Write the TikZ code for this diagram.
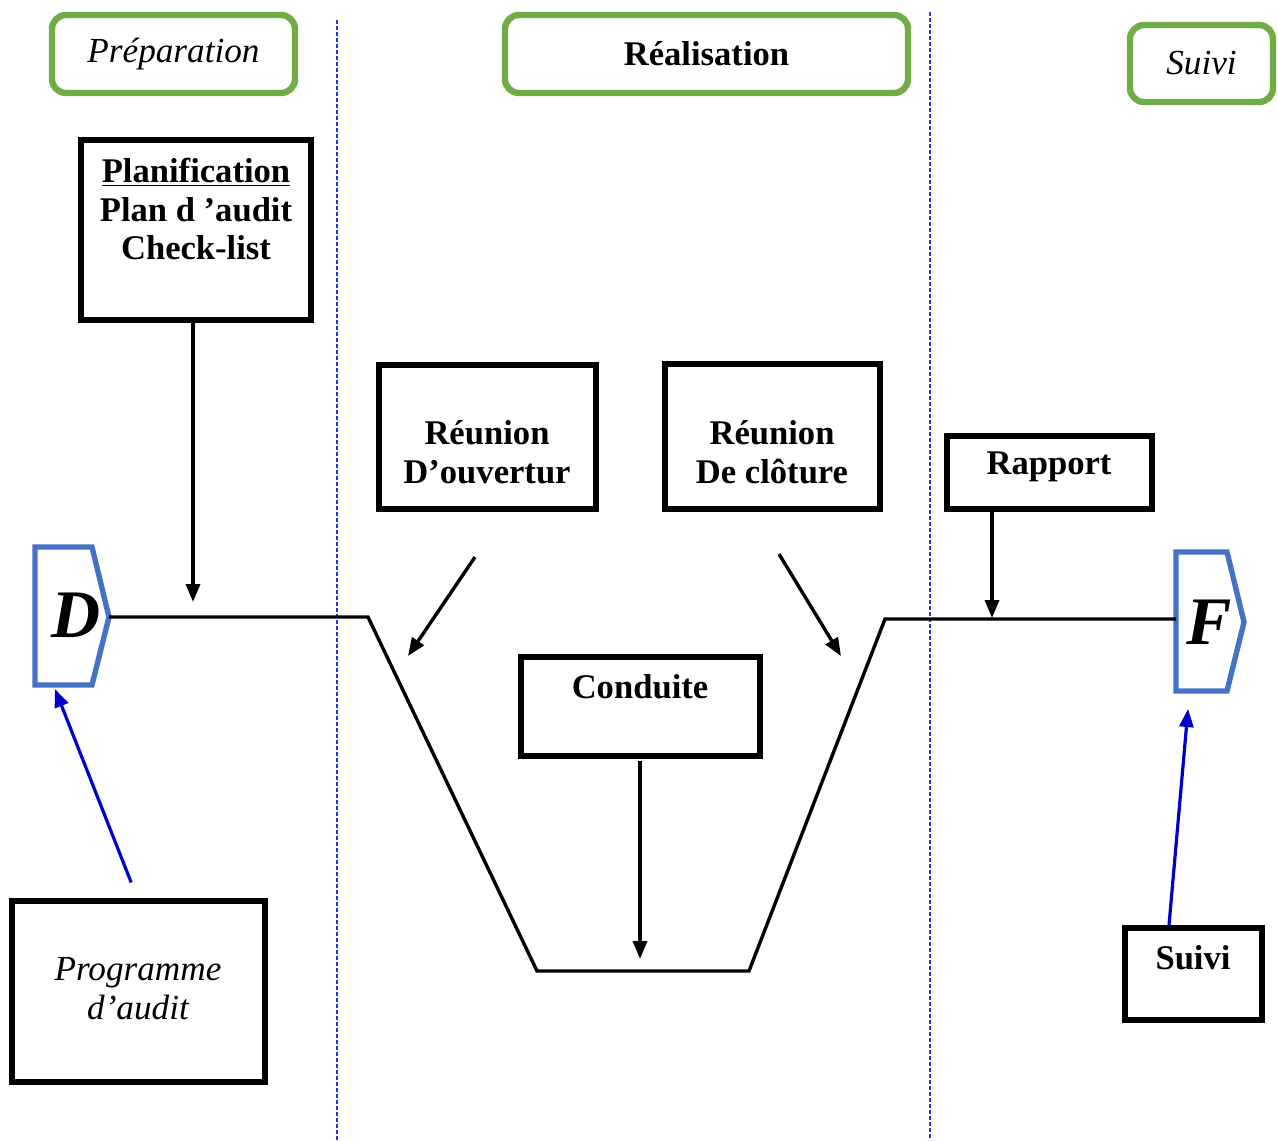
\documentclass[tikz,border=0pt]{standalone}
\usepackage{fontspec}
\setmainfont{Liberation Serif}
\usetikzlibrary{arrows.meta}
\definecolor{phasegreen}{HTML}{70AD47}
\definecolor{markerblue}{HTML}{4472C4}
\definecolor{linkblue}{RGB}{0,0,205}
\definecolor{sepblue}{RGB}{45,45,235}
\begin{document}
\begin{tikzpicture}[x=0.5pt,y=-0.5pt,
  phase/.style={draw=phasegreen, line width=3.2pt, rounded corners=7pt, inner sep=0pt, outer sep=0pt, anchor=north west},
  stepbox/.style={draw=black, line width=3pt, inner sep=0pt, outer sep=0pt, anchor=north west},
  marker/.style={draw=markerblue, line width=2.7pt, line join=miter},
  lbl/.style={font=\fontsize{17.3}{19.4}\selectfont\bfseries, align=center, inner sep=0pt},
  ilbl/.style={font=\fontsize{17.6}{19.4}\selectfont\itshape, align=center, inner sep=0pt},
  big/.style={font=\fontsize{34}{38}\selectfont\bfseries\itshape, inner sep=0pt},
  flow/.style={line width=1.7pt},
  arr/.style={line width=1.7pt, -{Triangle[length=9pt,width=7pt]}},
  bluearr/.style={draw=linkblue, line width=1.6pt, -{Triangle[length=9pt,width=7pt]}},
  sep/.style={draw=sepblue, line width=0.7pt, dash pattern=on 2pt off 1pt}
]
\useasboundingbox (0,0) rectangle (1278,1140);

% phase separators
\draw[sep] (337,20) -- (337,1140);
\draw[sep] (930,12) -- (930,1140);

% phase headers
\node[phase, minimum width=121.5pt, minimum height=39pt] (hprep) at (52,15) {};
\node[ilbl] at (hprep.center) {Préparation};
\node[phase, minimum width=201.5pt, minimum height=39pt] (hreal) at (505,15) {};
\node[lbl] at (hreal.center) {Réalisation};
\node[phase, minimum width=71.5pt, minimum height=38.5pt] (hsuivi) at (1130,25) {};
\node[ilbl] at (hsuivi.center) {Suivi};

% step boxes
\node[stepbox, minimum width=115pt, minimum height=90pt] (plan) at (81,140) {};
\node[lbl] (plantxt) at (196,209) {\underline{Planification}\\Plan d ’audit\\Check-list};

\node[stepbox, minimum width=108.5pt, minimum height=72pt] (ouv) at (379,365) {};
\node[lbl] (ouvtxt) at (487,452) {Réunion\\D’ouvertur};

\node[stepbox, minimum width=107.5pt, minimum height=72.5pt] (clo) at (665,364) {};
\node[lbl] (clotxt) at (772,452) {Réunion\\De clôture};

\node[stepbox, minimum width=119.5pt, minimum height=49.5pt] (cond) at (521,657) {};
\node[lbl] (condtxt) at (640,687) {Conduite};

\node[stepbox, minimum width=102.5pt, minimum height=36.5pt] (rap) at (947,436) {};
\node[lbl] (raptxt) at (1049,467) {Rapport};

\node[stepbox, minimum width=68.5pt, minimum height=46pt] (suivi) at (1125,928) {};
\node[lbl] (suivitxt) at (1193,958) {Suivi};

\node[stepbox, minimum width=126.5pt, minimum height=90.5pt] (prog) at (12,901) {};
\node[ilbl] (progtxt) at (138,989) {Programme\\d'audit};

% start and end markers
\draw[marker] (35,547) -- (92,547) -- (109,617) -- (92,685) -- (35,685) -- cycle;
\node[big] (dlbl) at (76,615) {D};
\coordinate (dtip) at (109,617);
\coordinate (dfoot) at (55,689);

\draw[marker] (1176,552) -- (1227,552) -- (1244,622) -- (1227,691) -- (1176,691) -- cycle;
\node[big] (flbl) at (1209,622) {F};
\coordinate (fside) at (1176,619);
\coordinate (ffoot) at (1188,709);

% process line
\coordinate (k1) at (368,617);
\coordinate (k2) at (537,971);
\coordinate (k3) at (749,971);
\coordinate (k4) at (885,619);
\draw[flow, line join=miter] (dtip) -- (k1) -- (k2) -- (k3) -- (k4) -- (fside);

% inputs to the process line
\coordinate (planend) at (193,602);
\draw[arr] (planend |- plan.south) -- (planend);

\coordinate (ouvstart) at (475,557);
\coordinate (ouvend) at (408,656);
\draw[arr] (ouvstart) -- (ouvend);

\coordinate (clostart) at (779,554);
\coordinate (cloend) at (841,656);
\draw[arr] (clostart) -- (cloend);

\coordinate (condend) at (640,959);
\draw[arr, shorten <=2.5pt] (condend |- cond.south) -- (condend);

\coordinate (rapend) at (992,618);
\draw[arr] (rapend |- rap.south) -- (rapend);

\draw[bluearr, shorten <=10pt] (prog.north) -- (dfoot);

\coordinate (suivistart) at (1169,925);
\draw[bluearr] (suivistart) -- (ffoot);
\end{tikzpicture}
\end{document}
